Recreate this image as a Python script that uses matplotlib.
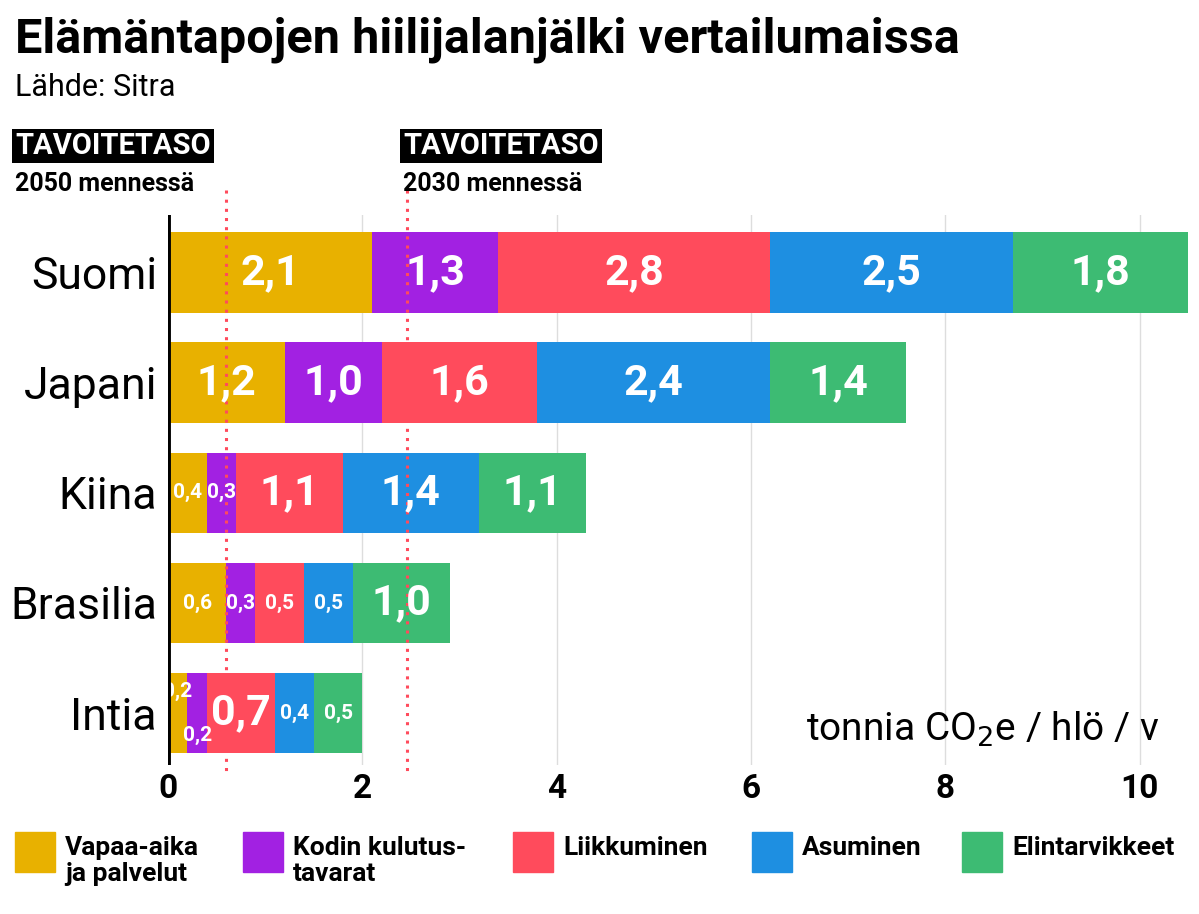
import matplotlib
matplotlib.use("Agg")
import matplotlib.pyplot as plt
from matplotlib.patches import Rectangle

countries = ["Suomi", "Japani", "Kiina", "Brasilia", "Intia"]
categories = ["Vapaa-aika\nja palvelut", "Kodin kulutus-\ntavarat", "Liikkuminen", "Asuminen", "Elintarvikkeet"]
vapaa = [2.1, 1.2, 0.4, 0.6, 0.2]
kodin = [1.3, 1.0, 0.3, 0.3, 0.2]
liikk = [2.8, 1.6, 1.1, 0.5, 0.7]
asum = [2.5, 2.4, 1.4, 0.5, 0.4]
elint = [1.8, 1.4, 1.1, 1.0, 0.5]
targets = [0.6, 2.46]
target_labels = ["2050 mennessä", "2030 mennessä"]
colors = ["#E8B100", "#A221E2", "#FF4B5C", "#1E8FE1", "#3DBB73"]
series = [vapaa, kodin, liikk, asum, elint]

F = "Roboto"
fig = plt.figure(figsize=(11.99, 9.14), dpi=100)
ax = fig.add_axes([168/1199, 1-765/914, 1030/1199, 550/914])
ax.set_xlim(0, 10.6)
ax.set_ylim(4.47, -0.52)
for g in [2, 4, 6, 8, 10]:
    ax.axvline(g, color="#dddddd", lw=1, zorder=0)

for i, c in enumerate(countries):
    left = 0
    for s, vals in enumerate(series):
        v = vals[i]
        ax.barh(i, v, left=left, height=0.73, color=colors[s], zorder=2)
        lab = f"{v:.1f}".replace(".", ",")
        big = v >= 0.7
        fs = 31 if big else 15
        dy = 0
        if c == "Intia" and s in (0, 1):
            dy = -0.2 if s == 0 else 0.2
        ax.text(left + v/2, i + dy, lab, ha="center", va="center", color="white",
                fontsize=fs, fontweight="bold", family=F, zorder=4)
        left += v

for t in targets:
    ax.plot([t, t], [-0.75, 4.57], ls=(0, (1, 2)), color="#FF4B5C", lw=2.2, zorder=3, clip_on=False)

ax.axvline(0, color="black", lw=3.5, zorder=5)
for sp in ax.spines.values():
    sp.set_visible(False)
ax.set_yticks(range(5))
ax.set_yticklabels(countries, fontsize=32, family=F)
ax.set_xticks([0, 2, 4, 6, 8, 10])
ax.set_xticklabels(["0", "2", "4", "6", "8", "10"], fontsize=24, fontweight="bold", family=F)
ax.tick_params(length=0, pad=6)
ax.tick_params(axis="y", pad=8)
ax.text(10.2, 4.15, "tonnia CO$_2$e / hlö / v", ha="right", va="center", fontsize=28, family=F)

fig.text(15/1199, 1-40/914, "Elämäntapojen hiilijalanjälki vertailumaissa", fontsize=35,
         fontweight="bold", family=F, va="center")
fig.text(15/1199, 1-88/914, "Lähde: Sitra", fontsize=22, family=F, va="center")

for x, lab in zip([15, 403], target_labels):
    fig.text(x/1199, 1-146/914, "TAVOITETASO", fontsize=21, fontweight="bold", family=F,
             color="white", va="center", bbox=dict(facecolor="black", edgecolor="none", pad=2))
    fig.text(x/1199, 1-184/914, lab, fontsize=18, fontweight="bold", family=F, va="center")

lx = [15, 243, 513, 752, 962]
for x, lab, col in zip(lx, categories, colors):
    fig.patches.append(Rectangle((x/1199, 1-872/914), 40/1199, 40/914, transform=fig.transFigure, color=col))
    fig.text((x+50)/1199, 1-836/914, lab, fontsize=19, fontweight="bold", family=F, va="top", linespacing=1.1)

fig.savefig("out.png", dpi=100)
